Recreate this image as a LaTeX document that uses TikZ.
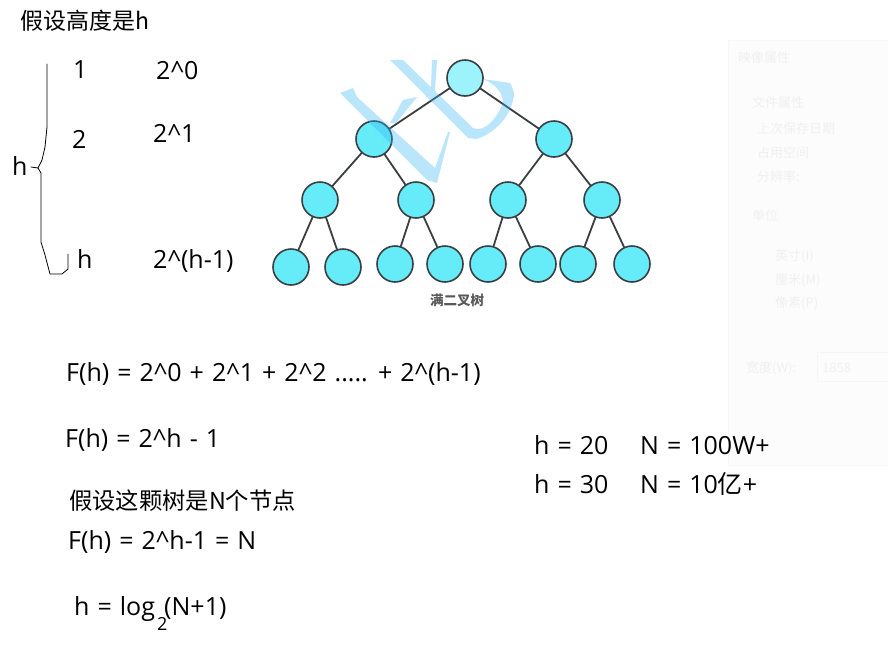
\documentclass[tikz,border=0pt]{standalone}
\usepackage{fontspec}
\setmainfont{Open Sans}
\newfontfamily\cjk{Noto Sans CJK SC}
\newcommand{\pw}{\textasciicircum}
\definecolor{nodefill}{HTML}{66ECF9}
\definecolor{rootfill}{HTML}{9CF3FB}
\definecolor{edgegray}{HTML}{3A3F42}
\definecolor{markblue}{HTML}{2FB4F4}
\definecolor{ghost}{HTML}{F0F0F0}
\tikzset{
	treenode/.style={circle,draw=edgegray,line width=1.6pt,fill=nodefill,minimum size=36pt,inner sep=0pt},
	treeedge/.style={draw=edgegray,line width=1.8pt},
	note/.style={anchor=base west,inner sep=0pt,font=\fontsize{25}{28}\selectfont,execute at begin node={\spaceskip=8pt\relax}},
	ghosttext/.style={anchor=base west,inner sep=0pt,text=ghost,font=\cjk\fontsize{13}{15}\selectfont},
	handline/.style={draw=black,line width=.8pt,line join=round}
}
\begin{document}
\begin{tikzpicture}[x=1pt,y=-1pt,line join=round,line cap=round]
	\useasboundingbox (0,0) rectangle (888,651);
	\fill[white] (0,0) rectangle (888,651);
	% faint panel on the right
	\draw[draw=black!3,fill=black!1] (728,40) rectangle (888,465);
	\foreach \gname/\x/\y/\txt in {ga/738/62/映像属性,gb/752/107/文件属性,gc/757/133/上次保存日期,gd/757/157/占用空间,ge/757/181/分辨率:,gf/752/220/单位,gg/775/260/英寸(I),gh/775/284/厘米(M),gi/775/307/像素(P),gj/746/372/宽度(W):,gk/822/372/1858}{
		\node[ghosttext] (\gname) at (\x,\y) {\txt};
	}
	\draw[draw=black!4] (817,352) rectangle (888,381);
	% tree
	\foreach \i/\x/\y in {2/374/139,3/554/139,4/320/200,5/416/200,6/508/200,7/602/200,
		8/291/267,9/343/267,10/395/264,11/445/264,12/488/264,13/538/264,14/578/264,15/632/264}{
		\node[treenode] (n\i) at (\x,\y) {};
	}
	\node[treenode,fill=rootfill] (n1) at (465,78) {};
	\foreach \a/\b in {1/2,1/3,2/4,2/5,3/6,3/7,4/8,4/9,5/10,5/11,6/12,6/13,7/14,7/15}{
		\draw[treeedge] (n\a)--(n\b);
	}
	\node[anchor=base,inner sep=0pt,text=black!65,font=\cjk\bfseries\fontsize{13.5}{16}\selectfont] (cap) at (457,305) {满二叉树};
	% watermark
	\begin{scope}[fill=markblue,opacity=.33]
		\fill (340,93)--(353,88)--(357,97)--(435,168)--(448,132)--(450,132)--(437,183)--(427,180)--cycle;
		\fill (390,123)--(403,100)--(417,97)--(396,123)--cycle;
		\fill (390,60)--(403,60)--(473,128) .. controls (485,133) and (497,118) .. (503,103)
			.. controls (503,92) and (495,84) .. (483,79)--(510,83) .. controls (514,90) and (515,95) .. (513,100)
			.. controls (510,115) and (497,132) .. (477,139)--(468,138)--cycle;
		\fill (432,60)--(437,60)--(435,90)--(431,88)--cycle;
	\end{scope}
	% left column
	\node[note,font=\cjk\fontsize{23}{26}\selectfont] (title) at (20,29) {假设高度是h};
	\node[note] (lvla) at (73,78) {1};
	\node[note] (lvlb) at (72,148) {2};
	\node[note] (lvlc) at (77,268) {h};
	\node[note] (powa) at (156,79) {2\pw0};
	\node[note] (powb) at (153,142) {2\pw1};
	\node[note] (powc) at (153,268) {2\pw(h-1)};
	\node[note] (hh) at (12,175) {h};
	\draw[handline] (47,64)--(47,127)--(45,147)--(42,160)--(38,168)--(31,167);
	\draw[handline] (38,168)--(41,173)--(41,242)--(45,255)--(50,274)--(62,274)--(68,269)--(68,254);
	% formulas
	\node[note] (fa) at (66,381) {F(h) = 2\pw0 + 2\pw1 + 2\pw2 ..... + 2\pw(h-1)};
	\node[note] (fb) at (65,447) {F(h) = 2\pw h - 1};
	\node[note,font=\cjk\fontsize{23.3}{26}\selectfont] (fc) at (69,509) {假设这颗树是N个节点};
	\node[note] (fd) at (68,549) {F(h) = 2\pw h-1 = N};
	\node[note] (fe) at (74,615) {h = log};
	\node[anchor=base west,inner sep=0pt,font=\fontsize{18}{20}\selectfont] (base) at (157,630) {2};
	\node[note] (ff) at (164,615) {(N+1)};
	% right
	\node[note] (ra) at (534,454) {h = 20};
	\node[note] (rb) at (640,454) {N = 100W+};
	\node[note] (rc) at (534,493) {h = 30};
	\node[note] (rd) at (640,493) {N = 10{\cjk 亿}+};
\end{tikzpicture}
\end{document}
